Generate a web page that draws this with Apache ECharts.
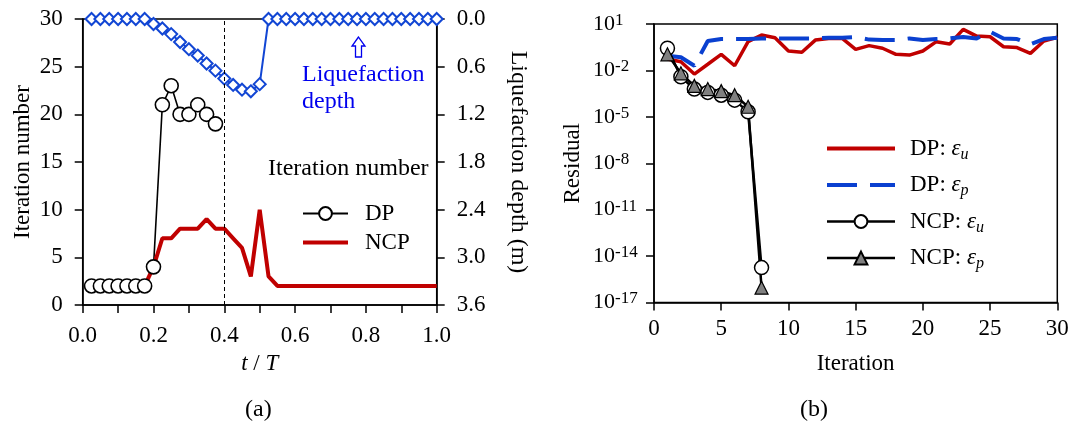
<!DOCTYPE html>
<html><head><meta charset="utf-8">
<script src="https://cdn.jsdelivr.net/npm/echarts@6/dist/echarts.min.js"></script>
<style>html,body{margin:0;padding:0;background:#fff}#c{width:1074px;height:429px}</style>
</head><body><div id="c"></div>
<script>
// ---------- (a) data ----------
const tValues = [0.025,0.05,0.075,0.1,0.125,0.15,0.175,0.2,0.225,0.25,0.275,0.3,0.325,0.35,0.375,0.4,
  0.425,0.45,0.475,0.5,0.525,0.55,0.575,0.6,0.625,0.65,0.675,0.7,0.725,0.75,0.775,0.8,0.825,0.85,0.875,0.9,0.925,0.95,0.975,1.0];
const dpIter = [2,2,2,2,2,2,2,4,21,23,20,20,21,20,19];
const ncpIter = [2,2,2,2,2,2,2,4,7,7,8,8,8,9,8,8,7,6,3,10,3,2,2,2,2,2,2,2,2,2,2,2,2,2,2,2,2,2,2,2];
const liqDepth = [0,0,0,0,0,0,0,0.063,0.12,0.19,0.29,0.38,0.46,0.56,0.65,0.75,0.83,0.89,0.91,0.82,
  0,0,0,0,0,0,0,0,0,0,0,0,0,0,0,0,0,0,0,0];
const leftTicks = [0,5,10,15,20,25,30];
const depthTicks = [0,0.6,1.2,1.8,2.4,3.0,3.6];
const markT = 0.4;

// ---------- (b) data ----------
const iterations = [1,2,3,4,5,6,7,8,9,10,11,12,13,14,15,16,17,18,19,20,21,22,23,24,25,26,27,28,29,30];
const dpEu = [0.054,0.036,0.0058,0.025,0.11,0.020,0.72,1.95,1.3,0.18,0.15,0.91,1.17,1.17,0.23,
  0.40,0.27,0.11,0.098,0.18,0.72,0.51,4.5,1.66,1.5,0.34,0.30,0.126,0.79,1.38];
const dpEp = [0.089,0.071,0.020,0.79,1.07,1.07,1.07,1.17,1.17,1.17,1.17,1.17,1.29,1.29,1.45,
  0.98,0.91,0.91,1.17,0.91,1.07,1.17,1.45,1.17,3.16,1.17,1.07,0.49,1.07,1.29];
const ncpEu = [0.27,3.9e-3,6.2e-4,3.8e-4,2.5e-4,1.2e-4,2.1e-5,1.8e-15];
const ncpEp = [0.11,6.5e-3,1.0e-3,6.2e-4,4.6e-4,2.5e-4,4.5e-5,9.1e-17];

const FONT = '"Liberation Serif","Times New Roman",serif';
const FS = 23;
const RED = '#c00000', BLUE = '#0a40d0', DBLUE = '#1246d4';
const chart = echarts.init(document.getElementById('c'));

const axisCommon = {
  nameMoveOverlap: false,
  axisLine: {show: true, lineStyle: {color: '#000', width: 1.5}},
  axisTick: {show: true, inside: false, length: 8, lineStyle: {color: '#000', width: 1.5}},
  splitLine: {show: false},
  axisLabel: {color: '#000', fontFamily: FONT, fontSize: FS, margin: 19},
  nameTextStyle: {color: '#000', fontFamily: FONT, fontSize: FS}
};
function ax(o) { return Object.assign({}, JSON.parse(JSON.stringify(axisCommon)), o, {
  axisLabel: Object.assign({}, axisCommon.axisLabel, o.axisLabel || {}),
  nameTextStyle: Object.assign({}, axisCommon.nameTextStyle, o.nameTextStyle || {})
}); }

const legendNames = {
  DPu: '{n|DP: }{e|ε}{s|u}', DPp: '{n|DP: }{e|ε}{s|p}',
  NCPu: '{n|NCP: }{e|ε}{s|u}', NCPp: '{n|NCP: }{e|ε}{s|p}'
};
const noSym = {opacity: 0, color: 'rgba(0,0,0,0)', borderColor: 'rgba(0,0,0,0)', borderWidth: 0};

chart.setOption({
  animation: false,
  backgroundColor: '#fff',
  grid: [
    {left: 82.7, top: 19, width: 354, height: 286, show: true, borderColor: '#000', borderWidth: 1.5, backgroundColor: 'transparent'},
    {left: 654, top: 24, width: 403.3, height: 278.5, show: true, borderColor: '#000', borderWidth: 1.5, backgroundColor: 'transparent'}
  ],
  xAxis: [
    ax({gridIndex: 0, type: 'value', min: 0, max: 1, interval: 0.1,
      name: '{i|t} / {i|T}', nameLocation: 'middle', nameGap: 47,
      nameTextStyle: {rich: {i: {fontStyle: 'italic', fontFamily: FONT, fontSize: FS, color: '#000'}}},
      axisLabel: {formatter: v => (Math.round(v * 10) % 2 === 0 ? v.toFixed(1) : '')}}),
    ax({gridIndex: 1, type: 'value', min: 0, max: 30, interval: 5,
      name: 'Iteration', nameLocation: 'middle', nameGap: 50,
      axisLabel: {margin: 15}})
  ],
  yAxis: [
    ax({gridIndex: 0, type: 'value', min: leftTicks[0], max: leftTicks[leftTicks.length - 1], interval: 5,
      name: 'Iteration number', nameLocation: 'middle', nameGap: 48, nameRotate: 90,
      axisLabel: {margin: 20}}),
    ax({gridIndex: 0, type: 'value', position: 'right', inverse: true, min: depthTicks[0], max: depthTicks[depthTicks.length - 1], interval: 0.6,
      name: 'Liquefaction depth (m)', nameLocation: 'middle', nameGap: 70, nameRotate: -90,
      nameTextStyle: {fontSize: 24},
      axisLabel: {margin: 20, formatter: v => v.toFixed(1)}}),
    ax({gridIndex: 1, type: 'log', logBase: 10, min: 1e-17, max: 10, interval: 3,
      name: 'Residual', nameLocation: 'middle', nameGap: 70, nameRotate: 90,
      axisLabel: {margin: 61, align: 'left', lineHeight: 24, fontSize: 22,
        formatter: v => '10{sup|' + Math.round(Math.log10(v)) + '}',
        rich: {sup: {fontSize: 17, fontFamily: FONT, color: '#000', verticalAlign: 'top', lineHeight: 14}}}})
  ],
  legend: [
    {data: [{name: 'DP', lineStyle: {width: 2}}, {name: 'NCP', itemStyle: noSym, lineStyle: {width: 4}}],
      orient: 'vertical', left: 296, top: 197, itemWidth: 45, itemHeight: 16, itemGap: 6,
      selectedMode: false,
      textStyle: {fontFamily: FONT, fontSize: FS, color: '#000', lineHeight: 23, padding: [0, 0, 0, 12]}},
    {data: [{name: 'DPu', itemStyle: noSym, lineStyle: {width: 4}}, {name: 'DPp', itemStyle: noSym, lineStyle: {width: 4}},
            {name: 'NCPu', lineStyle: {width: 2.5}}, {name: 'NCPp', lineStyle: {width: 2.5}}],
      orient: 'vertical', left: 820, top: 132, itemWidth: 68, itemHeight: 16, itemGap: 11,
      selectedMode: false,
      formatter: n => legendNames[n],
      textStyle: {fontFamily: FONT, fontSize: FS, color: '#000', padding: [0, 0, 0, 10],
        rich: {
          n: {fontFamily: FONT, fontSize: FS, color: '#000', lineHeight: 28},
          e: {fontFamily: FONT, fontSize: FS, fontStyle: 'italic', color: '#000', lineHeight: 28},
          s: {fontFamily: FONT, fontSize: 16, fontStyle: 'italic', color: '#000', lineHeight: 14, verticalAlign: 'bottom'}
        }}}
  ],
  graphic: [
    {type: 'text', left: 268, top: 157, style: {text: 'Iteration number', font: '24px ' + FONT, fill: '#000'}},
    {type: 'text', left: 302, top: 61, style: {text: 'Liquefaction\ndepth', font: '24px ' + FONT, fill: '#0000ee', lineHeight: 27}},
    {type: 'polygon', shape: {points: [[358.5, 37], [352, 46], [355.5, 46], [355.5, 57], [361.5, 57], [361.5, 46], [365, 46]]},
      style: {fill: '#fff', stroke: '#0000ee', lineWidth: 1.3}},
    {type: 'text', left: 245, top: 398, style: {text: '(a)', font: '24px ' + FONT, fill: '#000'}},
    {type: 'text', left: 800, top: 398, style: {text: '(b)', font: '24px ' + FONT, fill: '#000'}}
  ],
  series: [
    {name: 'Depth', type: 'line', xAxisIndex: 0, yAxisIndex: 1,
      data: tValues.map((t, i) => [t, liqDepth[i]]),
      symbol: 'diamond', symbolSize: 12, z: 3,
      itemStyle: {color: '#fff', borderColor: DBLUE, borderWidth: 2},
      lineStyle: {color: DBLUE, width: 2}},
    {name: 'DP', type: 'line', xAxisIndex: 0, yAxisIndex: 0,
      data: dpIter.map((v, i) => [tValues[i], v]),
      symbol: 'circle', symbolSize: 14,
      itemStyle: {color: '#fff', borderColor: '#000', borderWidth: 1.6},
      lineStyle: {color: '#000', width: 1.6},
      markLine: {silent: true, symbol: 'none', label: {show: false},
        lineStyle: {color: '#000', type: [4, 3], width: 1}, data: [{xAxis: markT}]}},
    {name: 'NCP', type: 'line', xAxisIndex: 0, yAxisIndex: 0,
      data: ncpIter.map((v, i) => [tValues[i], v]),
      symbol: 'none', itemStyle: {color: RED}, lineStyle: {color: RED, width: 4}},
    {name: 'DPu', type: 'line', xAxisIndex: 1, yAxisIndex: 2,
      data: dpEu.map((v, i) => [iterations[i], v]),
      symbol: 'none', itemStyle: {color: RED}, lineStyle: {color: RED, width: 3.5}},
    {name: 'DPp', type: 'line', xAxisIndex: 1, yAxisIndex: 2,
      data: dpEp.map((v, i) => [iterations[i], v]),
      symbol: 'none', itemStyle: {color: BLUE}, lineStyle: {color: BLUE, width: 4, type: [30, 13]}},
    {name: 'NCPu', type: 'line', xAxisIndex: 1, yAxisIndex: 2,
      data: ncpEu.map((v, i) => [iterations[i], v]),
      symbol: 'circle', symbolSize: 14,
      itemStyle: {color: '#fff', borderColor: '#000', borderWidth: 1.5},
      lineStyle: {color: '#000', width: 2.5}},
    {name: 'NCPp', type: 'line', xAxisIndex: 1, yAxisIndex: 2,
      data: ncpEp.map((v, i) => [iterations[i], v]),
      symbol: 'triangle', symbolSize: 13,
      itemStyle: {color: '#808080', borderColor: '#000', borderWidth: 1.2},
      lineStyle: {color: '#000', width: 2.5}}
  ]
});
</script></body></html>
